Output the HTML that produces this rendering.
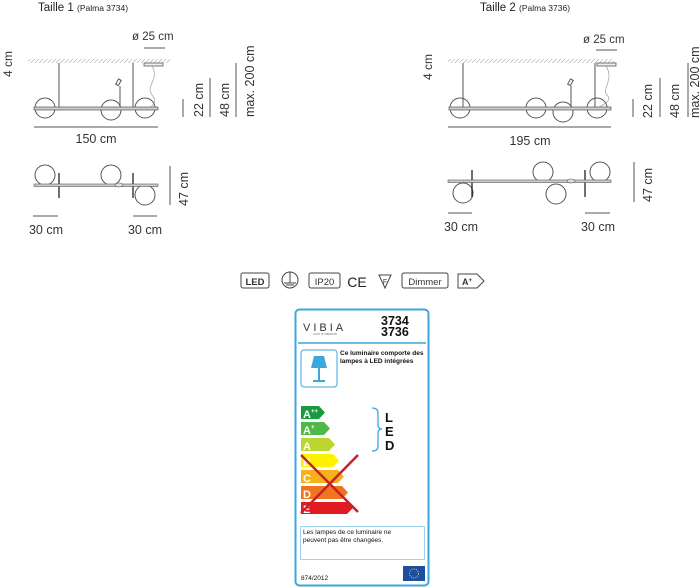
<!DOCTYPE html>
<html><head><meta charset="utf-8"><style>
html,body{margin:0;padding:0;background:#fff;}
svg{display:block;font-family:"Liberation Sans",Arial,sans-serif;}
</style></head><body>
<svg width="700" height="588" viewBox="0 0 700 588" xmlns="http://www.w3.org/2000/svg">
<defs>
<pattern id="h" width="3" height="3" patternUnits="userSpaceOnUse" patternTransform="rotate(45)"><line x1="0" y1="0" x2="0" y2="3" stroke="#999" stroke-width="1"/></pattern>
</defs>
<!-- LEFT -->
<text x="38" y="11" font-size="11.5" fill="#222">Taille 1 <tspan font-size="8.5">(Palma 3734)</tspan></text>
<rect x="28" y="59" width="142" height="4" fill="url(#h)"/>
<text x="132" y="40" font-size="11.5" fill="#333">ø 25 cm</text>
<line x1="144" y1="48" x2="165" y2="48" stroke="#555"/>
<rect x="144" y="63" width="19" height="3" fill="#eee" stroke="#555" stroke-width="0.8"/>
<path d="M152 66 C160 80,145 85,152 95 C158 102,152 106,150 108" fill="none" stroke="#aaa" stroke-width="0.8"/>
<text transform="translate(12,77) rotate(-90)" font-size="12" fill="#333">4 cm</text>
<g stroke="#555" fill="none">
<line x1="59" y1="63" x2="59" y2="108"/><line x1="133" y1="63" x2="133" y2="108"/>
<line x1="120" y1="86" x2="120" y2="107"/>
<rect x="117" y="79" width="3" height="6" transform="rotate(30 118 82)"/>
<circle cx="45" cy="108" r="10"/><circle cx="111" cy="110" r="10"/><circle cx="145" cy="108" r="10"/>
</g>
<rect x="34" y="107" width="124" height="3" fill="#ccc" stroke="#555" stroke-width="0.7"/>
<line x1="34" y1="127" x2="158" y2="127" stroke="#555"/>
<text x="96" y="143" font-size="12.5" fill="#333" text-anchor="middle">150 cm</text>
<line x1="183" y1="99" x2="183" y2="117" stroke="#555"/>
<line x1="210" y1="78" x2="210" y2="117" stroke="#555"/>
<line x1="236" y1="63" x2="236" y2="117" stroke="#555"/>
<text transform="translate(203,117) rotate(-90)" font-size="12.5" fill="#333">22 cm</text>
<text transform="translate(229,117) rotate(-90)" font-size="12.5" fill="#333">48 cm</text>
<text transform="translate(254,117) rotate(-90)" font-size="12.5" fill="#333">max. 200 cm</text>
<g stroke="#555" fill="none">
<circle cx="45" cy="175" r="10"/><circle cx="111" cy="175" r="10"/><circle cx="145" cy="195" r="10"/>
<line x1="59" y1="173" x2="59" y2="198" stroke="#222" stroke-width="1.3"/>
<line x1="133" y1="173" x2="133" y2="198" stroke="#222" stroke-width="1.3"/>
</g>
<rect x="34" y="184" width="124" height="2.5" fill="#ccc" stroke="#555" stroke-width="0.6"/>
<ellipse cx="119" cy="185" rx="4" ry="2" fill="#ddd" stroke="#555" stroke-width="0.6"/>
<line x1="170" y1="166" x2="170" y2="205" stroke="#555"/>
<text transform="translate(188,206) rotate(-90)" font-size="12.5" fill="#333">47 cm</text>
<line x1="33" y1="216" x2="58" y2="216" stroke="#555"/>
<line x1="133" y1="216" x2="157" y2="216" stroke="#555"/>
<text x="46" y="234" font-size="12.5" fill="#333" text-anchor="middle">30 cm</text>
<text x="145" y="234" font-size="12.5" fill="#333" text-anchor="middle">30 cm</text>

<!-- RIGHT -->
<text x="480" y="11" font-size="11.5" fill="#222">Taille 2 <tspan font-size="8.5">(Palma 3736)</tspan></text>
<rect x="448" y="59" width="166" height="4" fill="url(#h)"/>
<text x="583" y="43" font-size="11.5" fill="#333">ø 25 cm</text>
<line x1="596" y1="50" x2="617" y2="50" stroke="#555"/>
<rect x="597" y="63" width="19" height="3" fill="#eee" stroke="#555" stroke-width="0.8"/>
<path d="M606 66 C615 80,600 90,608 96 C612 102,600 106,598 108" fill="none" stroke="#aaa" stroke-width="0.8"/>
<text transform="translate(432,80) rotate(-90)" font-size="12" fill="#333">4 cm</text>
<g stroke="#555" fill="none">
<line x1="463" y1="63" x2="463" y2="108"/><line x1="595" y1="63" x2="595" y2="108"/>
<line x1="571" y1="86" x2="571" y2="107"/>
<rect x="569" y="79" width="3" height="6" transform="rotate(30 570 82)"/>
<circle cx="460" cy="108" r="10"/><circle cx="536" cy="108" r="10"/><circle cx="563" cy="112" r="10"/><circle cx="597" cy="108" r="10"/>
</g>
<rect x="449" y="107" width="162" height="3" fill="#ccc" stroke="#555" stroke-width="0.7"/>
<line x1="448" y1="127" x2="611" y2="127" stroke="#555"/>
<text x="530" y="145" font-size="12.5" fill="#333" text-anchor="middle">195 cm</text>
<line x1="633" y1="99" x2="633" y2="117" stroke="#555"/>
<line x1="660" y1="78" x2="660" y2="117" stroke="#555"/>
<line x1="688" y1="63" x2="688" y2="117" stroke="#555"/>
<text transform="translate(652,118) rotate(-90)" font-size="12.5" fill="#333">22 cm</text>
<text transform="translate(679,118) rotate(-90)" font-size="12.5" fill="#333">48 cm</text>
<text transform="translate(699,118) rotate(-90)" font-size="12.5" fill="#333">max. 200 cm</text>
<g stroke="#555" fill="none">
<circle cx="463" cy="193" r="10"/><circle cx="543" cy="172" r="10"/><circle cx="556" cy="194" r="10"/><circle cx="600" cy="172" r="10"/>
<line x1="472" y1="170" x2="472" y2="197" stroke="#222" stroke-width="1.3"/>
<line x1="585" y1="170" x2="585" y2="197" stroke="#222" stroke-width="1.3"/>
</g>
<rect x="448" y="180" width="163" height="2.5" fill="#ccc" stroke="#555" stroke-width="0.6"/>
<ellipse cx="571" cy="181" rx="4" ry="2" fill="#ddd" stroke="#555" stroke-width="0.6"/>
<line x1="634" y1="162" x2="634" y2="202" stroke="#555"/>
<text transform="translate(652,202) rotate(-90)" font-size="12.5" fill="#333">47 cm</text>
<line x1="448" y1="213" x2="472" y2="213" stroke="#555"/>
<line x1="585" y1="213" x2="610" y2="213" stroke="#555"/>
<text x="461" y="231" font-size="12.5" fill="#333" text-anchor="middle">30 cm</text>
<text x="598" y="231" font-size="12.5" fill="#333" text-anchor="middle">30 cm</text>

<!-- ICONS -->
<g stroke="#444" fill="none" stroke-width="1">
<rect x="241" y="273" width="28" height="15" rx="2"/>
<circle cx="290" cy="280" r="8"/><line x1="290" y1="272" x2="290" y2="283"/><line x1="284" y1="283" x2="296" y2="283"/><line x1="286" y1="285" x2="294" y2="285"/>
<rect x="309" y="273" width="31" height="15" rx="2"/>
<path d="M379 275 L391 275 L385 288 Z"/>
<rect x="402" y="273" width="46" height="15" rx="2"/>
<path d="M458 274 L477 274 L484 281 L477 288 L458 288 Z"/>
</g>
<text x="255" y="285" font-size="9.5" font-weight="bold" fill="#333" text-anchor="middle">LED</text>
<text x="324.5" y="285" font-size="9.5" fill="#333" text-anchor="middle">IP20</text>
<text x="357" y="287" font-size="14" fill="#222" text-anchor="middle">CE</text>
<text x="385" y="284" font-size="7" fill="#444" text-anchor="middle">F</text>
<text x="425" y="285" font-size="9.5" fill="#333" text-anchor="middle">Dimmer</text>
<text x="462" y="285" font-size="9" font-weight="bold" fill="#333">A<tspan font-size="6" dy="-3">+</tspan></text>

<!-- LABEL -->
<rect x="295.5" y="309.5" width="133" height="276" rx="4" fill="#fff" stroke="#3ba7dd" stroke-width="2"/>
<text x="303" y="331" font-size="11" letter-spacing="3" fill="#333">VIBIA</text>
<text x="313" y="335" font-size="2.5" fill="#666">LIGHT IS CREATION</text>
<text x="381" y="325" font-size="12.5" font-weight="bold" fill="#111">3734</text>
<text x="381" y="336" font-size="12.5" font-weight="bold" fill="#111">3736</text>
<line x1="298" y1="343" x2="426" y2="343" stroke="#3ba7dd" stroke-width="1.5"/>
<rect x="301" y="350" width="36" height="37" rx="3" fill="#fff" stroke="#3ba7dd" stroke-width="1"/>
<path d="M314 356 L324 356 L327 368 L311 368 Z" fill="#3ba7dd"/>
<rect x="318" y="368" width="2" height="12" fill="#3ba7dd"/>
<rect x="313" y="380" width="12" height="2" fill="#3ba7dd"/>
<text x="340" y="355" font-size="6.5" font-weight="bold" fill="#111">Ce luminaire comporte des</text>
<text x="340" y="363" font-size="6.5" font-weight="bold" fill="#111">lampes à LED intégrées</text>
<g font-weight="bold" fill="#fff" font-size="11">
<path d="M301 406 H319 L325 412.5 L319 419 H301 Z" fill="#1a9a3e"/>
<path d="M301 422 H324 L330 428.5 L324 435 H301 Z" fill="#4fb848"/>
<path d="M301 438 H329 L335 444.5 L329 451 H301 Z" fill="#bcd631"/>
<path d="M301 454 H333 L339 460.5 L333 467 H301 Z" fill="#fff200"/>
<path d="M301 470 H338 L344 476.5 L338 483 H301 Z" fill="#f7b11d"/>
<path d="M301 486 H342 L348 492.5 L342 499 H301 Z" fill="#ef7521"/>
<path d="M301 502 H347 L353 508 L347 514 H301 Z" fill="#e21b23"/>
<text x="303" y="418">A<tspan font-size="6" dy="-5">++</tspan></text>
<text x="303" y="434">A<tspan font-size="6" dy="-5">+</tspan></text>
<text x="303" y="450">A</text>
<text x="303" y="466">B</text>
<text x="303" y="482">C</text>
<text x="303" y="498">D</text>
<text x="303" y="513">E</text>
</g>
<line x1="301" y1="455" x2="358" y2="512" stroke="#c8202a" stroke-width="2.5"/>
<line x1="358" y1="455" x2="301" y2="513" stroke="#c8202a" stroke-width="2.5"/>
<path d="M372 408 Q378 408 378 413 L378 425 Q378 429 382 429 Q378 429 378 433 L378 446 Q378 451 372 451" fill="none" stroke="#3ba7dd" stroke-width="1.3"/>
<text x="385" y="422" font-size="13" font-weight="bold" fill="#111">L</text>
<text x="385" y="436" font-size="13" font-weight="bold" fill="#111">E</text>
<text x="385" y="450" font-size="13" font-weight="bold" fill="#111">D</text>
<rect x="300.5" y="526.5" width="124" height="33" fill="#fff" stroke="#9fd3ee" stroke-width="1"/>
<text x="303" y="534" font-size="6.5" fill="#111">Les lampes de ce luminaire ne</text>
<text x="303" y="542" font-size="6.5" fill="#111">peuvent pas être changées.</text>
<text x="301" y="580" font-size="6.5" fill="#111">874/2012</text>
<rect x="403" y="566" width="22" height="15" fill="#1d4ea0"/>
<circle cx="414" cy="573.5" r="4.5" fill="none" stroke="#ffdd00" stroke-width="1" stroke-dasharray="1 1.3"/>
</svg>
</body></html>
